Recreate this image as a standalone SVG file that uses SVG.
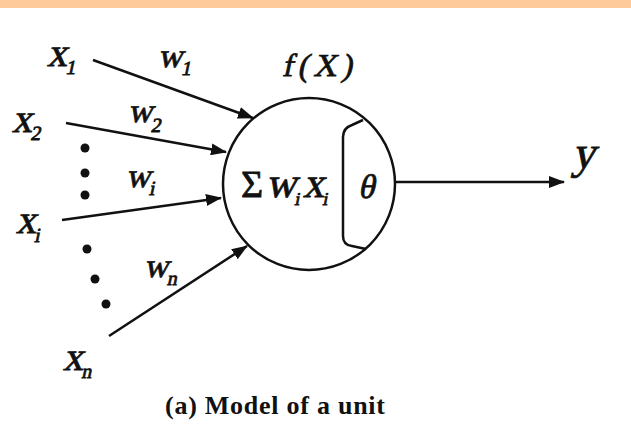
<svg xmlns="http://www.w3.org/2000/svg" width="631" height="425" viewBox="0 0 631 425">
<style>
.ln{stroke:#111;stroke-width:2.5;fill:none}
.m{font-family:"Liberation Serif",serif;fill:#111;stroke:#111;stroke-width:0.8}
.sub{font-size:20px}
.cap{font-family:"Liberation Serif",serif;font-weight:bold;font-size:26px;fill:#111}
</style>
<defs>
<marker id="ah" markerUnits="userSpaceOnUse" markerWidth="16" markerHeight="12" refX="15" refY="6" orient="auto" viewBox="0 0 16 12">
<path d="M0,0 L16,6 L0,12 z" fill="#111"/>
</marker>
</defs>
<rect x="0" y="0" width="631" height="425" fill="#fff"/>
<rect x="0" y="0" width="631" height="8" fill="#ffca99"/>

<g id="connectors">
<line class="ln" x1="93" y1="60" x2="253" y2="118" marker-end="url(#ah)"/>
<line class="ln" x1="66" y1="123" x2="226" y2="152" marker-end="url(#ah)"/>
<line class="ln" x1="62" y1="220" x2="221" y2="198" marker-end="url(#ah)"/>
<line class="ln" x1="109" y1="336" x2="247" y2="246" marker-end="url(#ah)"/>
<line class="ln" x1="395" y1="182" x2="564" y2="182" marker-end="url(#ah)"/>
<text class="m" font-size="34" transform="translate(158,67) skewX(-12)">w<tspan class="sub" dy="8">1</tspan></text>
<text class="m" font-size="34" transform="translate(128,122) skewX(-12)">w<tspan class="sub" dy="10">2</tspan></text>
<text class="m" font-size="34" transform="translate(126,187) skewX(-12)">w<tspan class="sub" dy="8">i</tspan></text>
<text class="m" font-size="34" transform="translate(144,277) skewX(-12)">w<tspan class="sub" dy="8">n</tspan></text>
</g>

<g id="dots" fill="#111">
<circle cx="85" cy="148" r="4.5"/>
<circle cx="85" cy="173" r="4.5"/>
<circle cx="85" cy="195" r="4.5"/>
<circle cx="87" cy="249" r="4.5"/>
<circle cx="95" cy="279" r="4.5"/>
<circle cx="106" cy="304" r="4.5"/>
</g>

<g id="x1"><text class="m" font-size="40" transform="translate(47,66) skewX(-12)">x<tspan class="sub" dy="8">1</tspan></text></g>
<g id="x2"><text class="m" font-size="40" transform="translate(12,132) skewX(-12)">x<tspan class="sub" dy="8">2</tspan></text></g>
<g id="xi"><text class="m" font-size="40" transform="translate(16,233) skewX(-12)">x<tspan class="sub" dy="9">i</tspan></text></g>
<g id="xn"><text class="m" font-size="40" transform="translate(63,370) skewX(-12)">x<tspan class="sub" dy="8">n</tspan></text></g>

<g id="neuron">
<circle class="ln" cx="309" cy="184" r="86"/>
<path class="ln" d="M363,120 L352,125 Q343,128 343,137 L343,236 Q343,245 352,246 L366,249"/>
<text class="m" font-size="32" transform="translate(282,76) skewX(-12)" textLength="70">f(X)</text>
<text x="241" y="197" font-family="Liberation Serif,serif" font-size="38" fill="#111" stroke="#111" stroke-width="0.8">Σ</text>
<text class="m" font-size="42" transform="translate(266,197) skewX(-12)">w<tspan font-size="18" x="30" dy="8">i</tspan><tspan x="37" dy="-8">x</tspan><tspan font-size="18" x="58" dy="8">i</tspan></text>
<text class="m" font-size="34" transform="translate(358,198) skewX(-12)">θ</text>
</g>

<g id="output"><text class="m" font-size="46" transform="translate(572,168) skewX(-12)">y</text></g>

<text class="cap" x="165" y="414" textLength="220">(a) Model of a unit</text>
</svg>
